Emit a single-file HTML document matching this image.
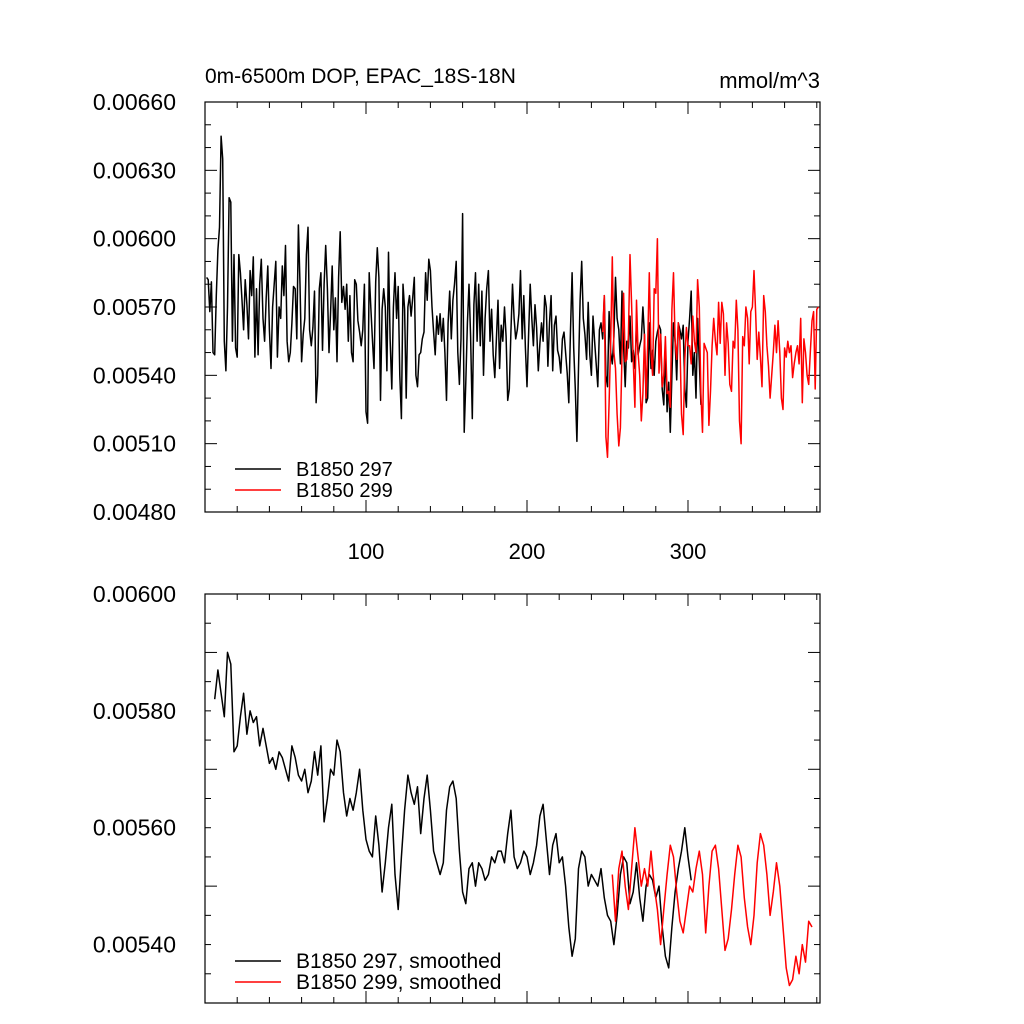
<!DOCTYPE html>
<html><head><meta charset="utf-8"><style>
body{margin:0;background:#fff}
svg{display:block;font-family:"Liberation Sans",sans-serif}
</style></head><body>
<svg id="c" width="1024" height="1024"></svg>
<script>
const blackRaw=[58.3,58.2,56.8,58.1,55.0,54.9,57.5,59.5,60.5,64.5,63.5,55.5,54.2,57.0,61.8,61.6,55.5,59.3,55.2,54.8,
59.3,58.5,57.3,56.0,58.2,57.1,55.6,58.6,57.5,59.2,54.8,57.8,54.9,58.0,59.1,56.5,55.5,57.4,58.8,56.0,
54.3,57.0,58.0,59.0,54.8,57.0,56.5,58.8,57.5,59.7,55.5,54.6,55.0,56.3,57.9,57.8,55.6,60.6,58.0,54.6,
55.8,56.5,59.3,60.5,56.0,55.3,56.1,57.7,52.8,54.0,57.8,58.5,55.1,58.0,59.7,57.8,55.0,56.8,58.8,56.0,
57.4,54.6,58.3,60.3,57.2,57.9,56.9,58.0,55.5,57.5,55.0,54.6,58.2,58.0,56.4,55.9,55.3,56.0,58.0,52.4,
51.9,58.5,57.0,55.6,54.3,58.1,59.6,58.3,52.9,56.9,57.8,57.0,54.2,59.4,55.6,53.4,57.0,58.5,56.5,57.9,
54.0,52.1,58.0,56.9,53.0,57.0,57.5,56.6,57.4,58.3,54.0,53.5,54.9,55.0,55.6,55.9,58.5,57.3,59.1,58.6,
57.0,55.9,54.9,56.6,55.8,56.7,55.5,56.5,55.0,52.9,56.3,57.7,55.6,57.3,58.0,59.0,55.0,53.6,55.6,61.1,
51.5,53.7,56.3,58.0,55.7,52.1,57.1,58.5,55.5,58.0,55.3,57.7,54.0,56.5,57.8,58.6,55.5,56.9,54.9,53.9,
55.6,57.3,54.3,56.2,55.5,57.0,55.7,52.9,53.4,55.9,58.0,56.5,55.6,56.0,56.7,58.6,55.6,57.5,55.2,53.5,
55.8,58.0,56.5,55.3,57.1,56.1,54.2,55.4,56.3,55.5,57.5,57.0,54.4,56.3,57.5,54.2,56.2,56.6,55.1,54.8,
54.1,55.6,55.9,55.0,54.1,52.8,56.0,58.5,55.2,53.4,51.1,54.3,57.3,59.0,56.5,55.8,54.7,57.2,54.9,54.0,
56.6,55.5,54.5,53.5,56.0,56.3,55.6,57.5,54.0,53.5,56.8,55.0,54.5,55.7,58.3,56.5,56.0,54.5,57.7,55.3,
53.5,55.5,55.2,56.6,54.6,55.1,54.3,56.3,54.9,55.3,55.6,57.0,55.7,52.8,53.0,56.3,54.3,55.1,54.0,55.5,
55.9,56.2,56.0,53.4,52.7,55.1,52.4,53.7,51.5,54.0,56.3,55.5,53.8,56.3,56.0,55.6,56.2,53.4,52.6,55.5,
56.5,57.7,54.0,55.0,53.0,56.5,54.6,52.7];
const blackRawStart=1;
const redRaw=[55.9,57.5,51.3,50.4,52.8,55.5,59.2,55.0,54.3,52.3,50.9,51.7,54.9,57.6,54.6,54.7,55.7,59.3,57.1,54.7,
52.6,57.3,55.0,54.0,52.0,53.2,55.8,53.0,55.4,58.5,55.0,54.0,57.8,57.6,60.0,54.1,55.8,53.5,54.0,55.7,
53.2,53.3,52.6,56.9,58.5,55.5,54.7,56.3,55.5,52.3,51.4,54.7,56.1,55.3,55.3,54.5,56.6,55.5,55.0,58.2,
57.0,53.2,51.5,55.4,55.2,55.0,51.8,53.3,55.3,56.5,55.5,54.9,57.2,55.4,57.2,56.7,54.0,56.3,55.4,53.6,
53.3,55.5,55.2,57.3,56.0,52.0,51.0,55.7,55.3,57.0,56.5,54.5,56.8,57.0,58.6,56.8,54.7,55.9,54.8,53.5,
57.5,56.8,55.3,54.4,53.0,54.0,55.0,56.2,55.0,56.4,55.0,53.0,52.5,55.2,54.8,55.5,55.0,55.3,53.9,54.5,
55.0,55.3,54.5,56.5,52.8,55.6,55.0,54.0,53.6,55.0,56.4,56.8,53.4,56.9,57.0];
const redRawStart=247;
const blackSm=[58.2,58.7,58.3,57.9,59.0,58.8,57.3,57.4,57.9,58.3,57.6,58.0,57.8,57.9,57.4,57.7,57.4,57.1,57.2,57.0,
57.3,57.2,57.0,56.8,57.4,57.2,56.9,56.8,57.0,56.6,56.8,57.3,56.9,57.4,56.1,56.5,57.0,56.9,57.5,57.3,
56.6,56.2,56.5,56.3,56.6,57.0,56.3,55.8,55.6,55.5,56.2,55.7,54.9,55.4,56.0,56.4,55.2,54.6,55.5,56.3,
56.9,56.6,56.4,56.7,55.9,56.5,56.9,56.3,55.6,55.4,55.2,55.4,56.3,56.7,56.8,56.5,55.6,54.9,54.7,55.3,
55.4,55.0,55.4,55.3,55.1,55.2,55.5,55.4,55.6,55.6,55.4,55.9,56.3,55.5,55.3,55.4,55.6,55.5,55.2,55.4,
55.7,56.2,56.4,55.8,55.2,55.7,55.9,55.4,55.5,55.0,54.3,53.8,54.1,55.3,55.6,55.5,55.0,55.2,55.1,55.0,
55.3,54.8,54.5,54.4,54.0,54.5,55.2,55.5,55.4,54.7,54.9,55.4,54.8,54.4,55.0,55.2,55.1,54.8,55.0,54.3,
53.8,53.6,54.3,54.9,55.3,55.6,56.0,55.5,55.1];
const blackSmStart=6;
const redSm=[55.2,54.4,55.3,55.6,55.0,54.6,55.3,56.0,55.5,55.0,55.3,55.0,55.6,55.0,54.6,54.0,54.6,55.2,55.7,55.5,
54.9,54.4,54.2,54.6,55.0,54.9,55.3,55.6,55.2,54.2,55.0,55.6,55.7,55.3,54.6,53.9,54.1,54.6,55.2,55.7,
55.5,54.8,54.3,54.0,54.5,55.4,55.9,55.7,55.2,54.5,54.9,55.4,55.0,54.3,53.6,53.3,53.4,53.8,53.5,54.0,
53.7,54.4,54.3];
const redSmStart=253;
const topTicks=["0.00480","0.00510","0.00540","0.00570","0.00600","0.00630","0.00660"];
const botTicks=["0.00540","0.00560","0.00580","0.00600"];
const xTicks=[100,200,300];

const NS="http://www.w3.org/2000/svg",svg=document.getElementById('c');
function mk(t,a,p){const e=document.createElementNS(NS,t);for(const k in a)e.setAttribute(k,a[k]);(p||svg).appendChild(e);return e;}
const X0=205,X1=820,XMAX=382;
const sx=v=>X0+v*(X1-X0)/XMAX;
const panels=[{y0:102,y1:512,lo:48,hi:66,major:3,minor:1,ticks:topTicks},{y0:594,y1:1003,lo:53,hi:60,major:2,minor:0.5,ticks:botTicks}];
panels.forEach((p,pi)=>{
  const sy=v=>p.y1-(v-p.lo)*(p.y1-p.y0)/(p.hi-p.lo);p.sy=sy;
  const g=mk('g',{});
  
  
  const fr=mk('rect',{x:X0,y:p.y0,width:X1-X0,height:p.y1-p.y0,fill:'none',stroke:'#000','stroke-width':1.2},g);
  
  for(let v=p.lo;v<=p.hi+1e-6;v+=p.minor){
    const isM=Math.abs(((v-p.lo)/p.major)-Math.round((v-p.lo)/p.major))<1e-6 && !(pi==1&&Math.abs(v-53)<1e-6);
    const L=isM?12:6,y=sy(v);
    mk('line',{x1:X0,x2:X0+L,y1:y,y2:y,stroke:'#000'},g);
    mk('line',{x1:X1,x2:X1-L,y1:y,y2:y,stroke:'#000'},g);
  }
  p.ticks.forEach(t=>{
    const tx=mk('text',{x:176,y:sy(parseFloat(t)*1e4)+8,'text-anchor':'end','font-size':23},g);
    tx.textContent=t;
    
  });
  for(let v=20;v<XMAX;v+=20){
    const L=v%100==0?12:6,x=sx(v);
    mk('line',{x1:x,x2:x,y1:p.y1,y2:p.y1-L,stroke:'#000'},g);
    mk('line',{x1:x,x2:x,y1:p.y0,y2:p.y0+L,stroke:'#000'},g);
  }
});
xTicks.forEach(v=>{
  const t=mk('text',{x:sx(v),y:559,'text-anchor':'middle','font-size':22});t.textContent=v;
  
});
function series(arr,start,step,p,col,name){
  const pts=arr.map((v,i)=>sx(start+i*step).toFixed(1)+','+p.sy(v).toFixed(1)).join(' ');
  const l=mk('polyline',{points:pts,fill:'none',stroke:col,'stroke-width':1.5,'stroke-linejoin':'round'});
  
}
series(blackRaw,blackRawStart,1,panels[0],'#000','series-b1850-297');
series(redRaw,redRawStart,1,panels[0],'#f00','series-b1850-299');
series(blackSm,blackSmStart,2,panels[1],'#000','series-b1850-297-smoothed');
series(redSm,redSmStart,2,panels[1],'#f00','series-b1850-299-smoothed');
function legend(y,col,txt,fs){
  mk('line',{x1:235,x2:281,y1:y,y2:y,stroke:col,'stroke-width':1.6});
  const t=mk('text',{x:296,y:y+7,'font-size':fs});t.textContent=txt;
  
}
legend(469,'#000','B1850 297',20);legend(490,'#f00','B1850 299',20);
legend(961,'#000','B1850 297, smoothed',21);legend(982,'#f00','B1850 299, smoothed',21);
const t1=mk('text',{x:205,y:83,'font-size':21});t1.textContent='0m-6500m DOP, EPAC_18S-18N';

const t2=mk('text',{x:820,y:88,'font-size':22,'text-anchor':'end'});t2.textContent='mmol/m^3';

</script>
</body></html>
